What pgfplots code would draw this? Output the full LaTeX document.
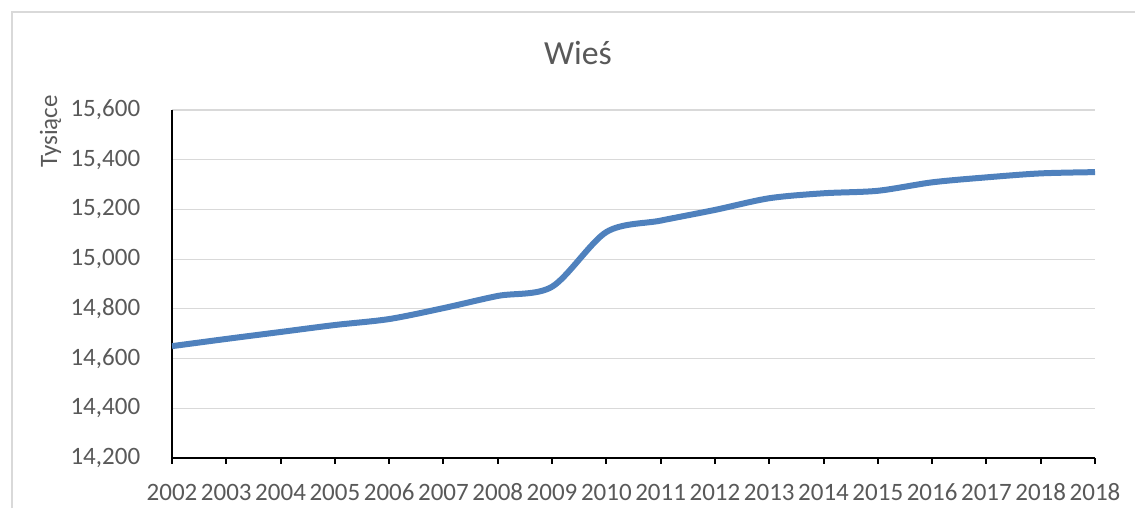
\documentclass[border=0pt]{standalone}
\usepackage{pgfplots}
\pgfplotsset{compat=1.18}
\usepackage{fontspec}
\setmainfont{Carlito}
\definecolor{linecol}{HTML}{4F81BD}
\definecolor{txt}{HTML}{595959}
\definecolor{gridc}{HTML}{D9D9D9}
\begin{document}
\begin{tikzpicture}
\useasboundingbox (-68.8pt,-20pt) rectangle (385.2pt,183.2pt);
\draw[gridc, line width=0.6pt] (-64pt,-20pt) -- (-64pt,178.4pt) -- (385.2pt,178.4pt);
\begin{axis}[
  at={(0pt,0pt)}, anchor=south west,
  scale only axis,
  width=369.2pt, height=139.2pt,
  xmin=0, xmax=17, ymin=14200, ymax=15600,
  axis x line=bottom, axis y line=left,
  axis line style={-, black, line width=0.8pt},
  xtick={0,...,17},
  xticklabels={2002,2003,2004,2005,2006,2007,2008,2009,2010,2011,2012,2013,2014,2015,2016,2017,2018,2018},
  ytick={14200,14400,...,15600},
  scaled y ticks=false,
  tick align=outside,
  major tick length=2.2pt,
  x tick style={black, line width=0.8pt},
  y tick style={draw=none},
  ymajorgrids,
  grid style={gridc, line width=0.5pt},
  tick label style={font=\fontsize{10}{12}\selectfont, text=txt},
  xticklabel style={anchor=base, yshift=-14.8pt},
  yticklabel style={xshift=-7pt},
  /pgf/number format/.cd, 1000 sep={,}, assume math mode=true,
]
\addplot[linecol, line width=2.4pt, smooth, tension=0.5] coordinates {
(0,14650) (1,14679) (2,14707) (3,14735) (4,14759) (5,14803) (6,14852) (7,14889)
(8,15109) (9,15155) (10,15198) (11,15245) (12,15265) (13,15275) (14,15309)
(15,15329) (16,15345) (17,15350)
};
\end{axis}
\node[anchor=base, text=txt, font=\fontsize{13.5}{15}\selectfont] at (162.4pt,157.2pt) {Wieś};
\node[anchor=base, rotate=90, text=txt, font=\fontsize{10}{12}\selectfont] at (-46pt,130.6pt) {Tysiące};
\end{tikzpicture}
\end{document}
